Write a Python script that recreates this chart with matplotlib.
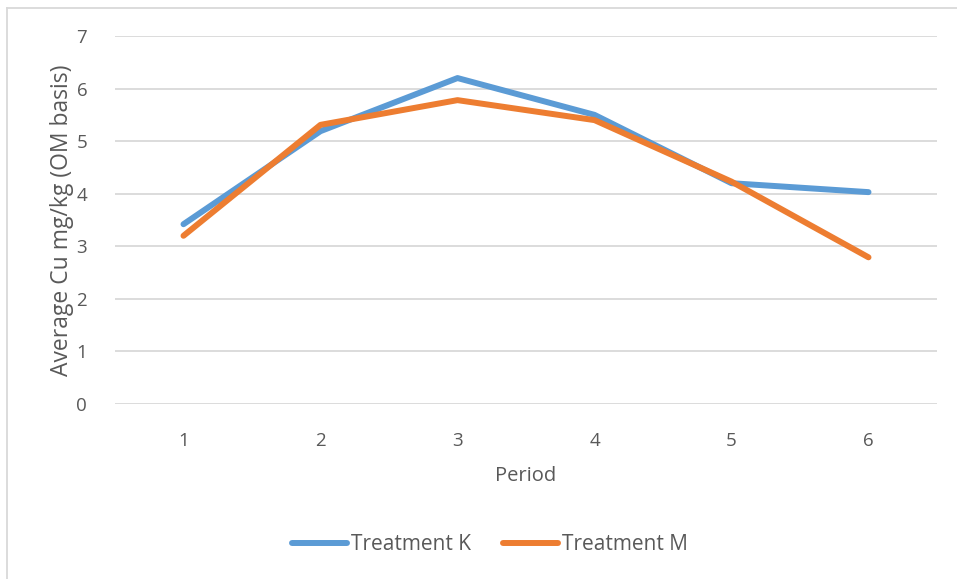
import matplotlib
matplotlib.use("Agg")
import matplotlib.pyplot as plt
from matplotlib.lines import Line2D

periods = [1, 2, 3, 4, 5, 6]
treatment_k = [3.42, 5.19, 6.20, 5.50, 4.20, 4.03]
treatment_m = [3.20, 5.31, 5.78, 5.40, 4.23, 2.79]
y_ticks = [0, 1, 2, 3, 4, 5, 6, 7]

text_color = "#595959"
plt.rcParams["font.family"] = ["Open Sans", "DejaVu Sans"]

fig = plt.figure(figsize=(9.57, 5.79), dpi=100)
W, H = 957, 579

# frame lines: left and top only
fig.lines.append(Line2D([7.5 / W, 7.5 / W], [0, 1 - 7.5 / H], transform=fig.transFigure,
                        color="#D9D9D9", lw=1.3))
fig.lines.append(Line2D([7.5 / W, 1], [1 - 7.5 / H, 1 - 7.5 / H], transform=fig.transFigure,
                        color="#D9D9D9", lw=1.3))

ax = fig.add_axes([115 / W, 175 / H, 822 / W, 368 / H])
ax.plot(periods, treatment_k, color="#5B9BD5", lw=4.3, solid_capstyle="round",
        solid_joinstyle="round", label="Treatment K", zorder=3)
ax.plot(periods, treatment_m, color="#ED7D31", lw=4.3, solid_capstyle="round",
        solid_joinstyle="round", label="Treatment M", zorder=4)

ax.set_xlim(0.5, 6.5)
ax.set_ylim(0, 7)
ax.set_xticks(periods)
ax.set_yticks(y_ticks)
ax.grid(axis="y", color="#D9D9D9", lw=1.3)
ax.set_axisbelow(True)
for s in ax.spines.values():
    s.set_visible(False)
ax.tick_params(length=0, labelsize=13.5, colors=text_color)
ax.tick_params(axis="x", pad=20)
ax.tick_params(axis="y", pad=20)

ax.set_xlabel("Period", fontsize=14.5, color=text_color, labelpad=12)
ax.set_ylabel("Average Cu mg/kg (OM basis)", fontsize=16.5, color=text_color, labelpad=2)

fig.legend(loc="center", bbox_to_anchor=(490 / W, 1 - 545 / H), ncol=2, frameon=False,
           fontsize=15, labelcolor=text_color, handlelength=2.65, handletextpad=0.2,
           columnspacing=1.5)

fig.savefig("out.png", dpi=100, facecolor="white")
